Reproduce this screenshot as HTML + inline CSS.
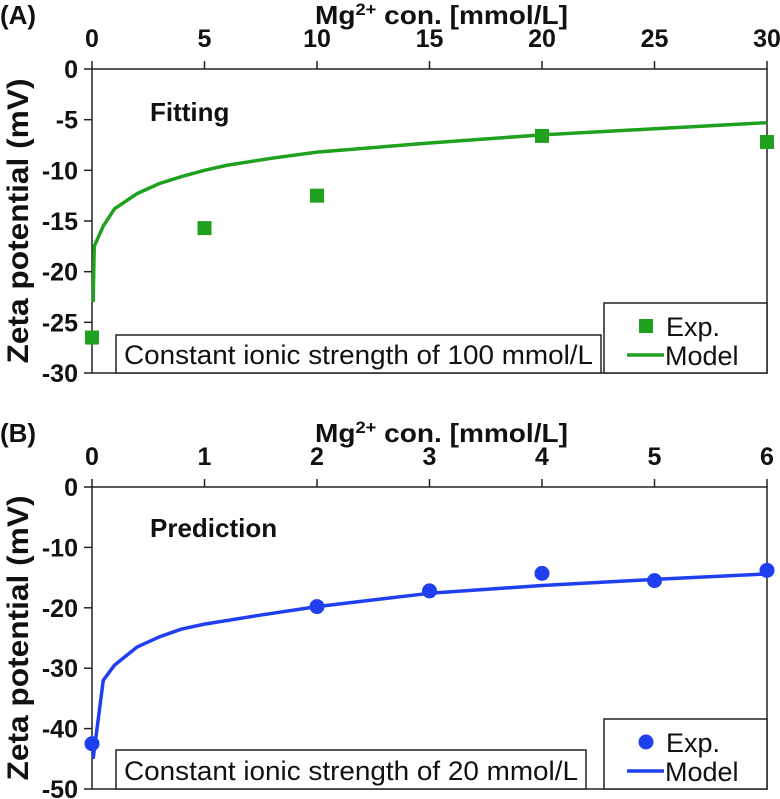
<!DOCTYPE html>
<html><head><meta charset="utf-8"><style>
body{margin:0;background:#fff;}
svg{display:block;font-family:"Liberation Sans",Arial,sans-serif;}
</style></head><body>
<svg id="fig" width="780" height="799" viewBox="0 0 780 799"></svg>
<script>
const aExpX=[0,5,10,20,30];
const aExpY=[-26.5,-15.7,-12.5,-6.6,-7.2];
const aModX=[0.05,0.1,0.5,1,2,3,4,5,6,8,10,15,20,25,30];
const aModY=[-23,-17.5,-15.5,-13.8,-12.3,-11.3,-10.6,-10,-9.5,-8.8,-8.2,-7.3,-6.5,-5.9,-5.3];
const aXTicks=[0,5,10,15,20,25,30];
const aYTicks=[0,-5,-10,-15,-20,-25,-30];
const bExpX=[0,2,3,4,5,6];
const bExpY=[-42.5,-19.8,-17.2,-14.3,-15.5,-13.8];
const bModX=[0.01,0.1,0.2,0.4,0.6,0.8,1,1.5,2,3,4,5,6];
const bModY=[-45,-32,-29.5,-26.5,-24.8,-23.5,-22.7,-21.2,-19.8,-17.6,-16.3,-15.3,-14.4];
const bXTicks=[0,1,2,3,4,5,6];
const bYTicks=[0,-10,-20,-30,-40,-50];

const NS="http://www.w3.org/2000/svg";
const svg=document.getElementById('fig');
function mk(tag,attrs,parent,text){const e=document.createElementNS(NS,tag);for(const k in attrs)e.setAttribute(k,attrs[k]);if(text!==undefined)e.textContent=text;(parent||svg).appendChild(e);return e;}

function panel(o){
  const g=mk('g',{});
  
  
  const sx=v=>o.x0+(v-o.xmin)/(o.xmax-o.xmin)*(o.x1-o.x0);
  const sy=v=>o.y0+(o.ymax-v)/(o.ymax-o.ymin)*(o.y1-o.y0);
  const fr=mk('rect',{x:o.x0,y:o.y0,width:o.x1-o.x0,height:o.y1-o.y0,fill:'none',stroke:'#222','stroke-width':1.5},g);
  
  o.xt.forEach(v=>{
    const l=mk('line',{x1:sx(v),x2:sx(v),y1:o.y0,y2:o.y0-8,stroke:'#222','stroke-width':1.5},g);
    
    const t=mk('text',{x:sx(v),y:o.y0-22,'text-anchor':'middle','font-size':25,'font-weight':'bold',fill:'#111'},g,String(v));
    
  });
  o.yt.forEach(v=>{
    const l=mk('line',{x1:o.x0,x2:o.x0-8,y1:sy(v),y2:sy(v),stroke:'#222','stroke-width':1.5},g);
    
    const t=mk('text',{x:o.x0-14,y:sy(v)+9,'text-anchor':'end','font-size':25,'font-weight':'bold',fill:'#111'},g,String(v));
    
  });
  const xt=mk('text',{x:315,y:o.y0-45,'font-size':26,'font-weight':'bold',fill:'#111',textLength:253,lengthAdjust:'spacingAndGlyphs'},g);
  xt.innerHTML='Mg<tspan font-size="17" dy="-9">2+</tspan><tspan dy="9"> con. [mmol/L]</tspan>';
  
  const cy=(o.y0+o.y1)/2;
  const yt=mk('text',{x:0,y:0,transform:`translate(28,${cy}) rotate(-90)`,'text-anchor':'middle','font-size':30,'font-weight':'bold',fill:'#111',textLength:285,lengthAdjust:'spacingAndGlyphs'},g,'Zeta potential (mV)');
  
  const pl=mk('text',{x:0,y:o.y0-45,'font-size':26,'font-weight':'bold',fill:'#111'},g,o.label);
  
  const an=mk('text',{x:150,y:o.annY,'font-size':26,'font-weight':'bold',fill:'#111'},g,o.ann);
  
  const pts=o.mx.map((v,i)=>sx(v)+','+sy(o.my[i])).join(' ');
  const ln=mk('polyline',{points:pts,fill:'none',stroke:o.col,'stroke-width':3.5,'stroke-linejoin':'round'},g);
  
  o.ex.forEach((v,i)=>{
    let m;
    if(o.sq) m=mk('rect',{x:sx(v)-7,y:sy(o.ey[i])-7,width:14,height:14,fill:o.col},g);
    else m=mk('circle',{cx:sx(v),cy:sy(o.ey[i]),r:7.5,fill:o.col},g);
    
  });
  const tb=mk('rect',{x:116,y:o.tbY,width:o.tbW,height:o.y1-o.tbY,fill:'#fff',stroke:'#222','stroke-width':1.5},g);
  
  const tt=mk('text',{x:124,y:o.y1-9,'font-size':27,fill:'#111',textLength:o.tbW-16,lengthAdjust:'spacingAndGlyphs'},g,o.tbText);
  
  const lg=mk('rect',{x:604,y:o.lgY,width:o.x1-604,height:o.y1-o.lgY,fill:'#fff',stroke:'#222','stroke-width':1.5},g);
  
  const ly1=o.lgY+23, ly2=o.lgY+52;
  let lm;
  if(o.sq) lm=mk('rect',{x:639,y:ly1-7,width:14,height:14,fill:o.col},g);
  else lm=mk('circle',{cx:646,cy:ly1,r:7.5,fill:o.col},g);
  
  const l1=mk('text',{x:666,y:ly1+10,'font-size':27,fill:'#111'},g,'Exp.');
  
  const ll=mk('line',{x1:627,x2:664,y1:ly2,y2:ly2,stroke:o.col,'stroke-width':3.5},g);
  
  const l2=mk('text',{x:665,y:ly2+10,'font-size':27,fill:'#111'},g,'Model');
  
}

panel({name:'panel-a',label:'(A)',x0:92,x1:767,y0:69,y1:373,xmin:0,xmax:30,ymin:-30,ymax:0,
  xt:aXTicks,yt:aYTicks,ex:aExpX,ey:aExpY,mx:aModX,my:aModY,col:'#1fa01f',sq:true,
  ann:'Fitting',annY:121,tbY:335,tbW:485,tbText:'Constant ionic strength of 100 mmol/L',lgY:303});
panel({name:'panel-b',label:'(B)',x0:92,x1:767,y0:487,y1:789,xmin:0,xmax:6,ymin:-50,ymax:0,
  xt:bXTicks,yt:bYTicks,ex:bExpX,ey:bExpY,mx:bModX,my:bModY,col:'#1f3ff0',sq:false,
  ann:'Prediction',annY:537,tbY:750,tbW:470,tbText:'Constant ionic strength of 20 mmol/L',lgY:719});
</script>
</body></html>
